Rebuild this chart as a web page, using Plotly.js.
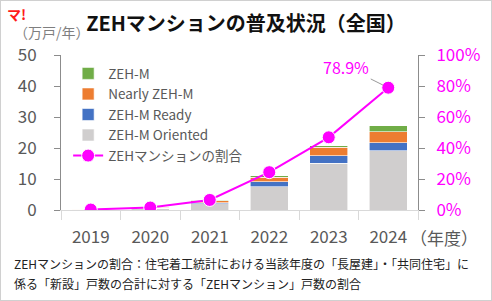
<!DOCTYPE html>
<html><head><meta charset="utf-8">
<script src="https://cdn.plot.ly/plotly-3.0.1.min.js"></script>
<style>
html,body{margin:0;padding:0;background:#fff;}
#wrap{width:492px;height:301px;box-sizing:border-box;border:1px solid #d0d0d0;position:relative;overflow:hidden;}
#chart{position:absolute;left:-1px;top:-1px;width:492px;height:301px;}
</style></head>
<body><div id="wrap"><div id="chart"></div></div>
<script>
const years = ['2019','2020','2021','2022','2023','2024'];
const zehM      = [0.05, 0.1, 0.2, 0.4, 0.6, 1.9];
const nearly    = [0.1, 0.3, 0.6, 1.5, 2.7, 3.5];
const ready     = [0.05, 0.1, 0.4, 1.6, 2.4, 2.6];
const oriented  = [0.1, 0.5, 2.0, 7.5, 15.1, 19.1];
const sharePct  = [0.3, 1.6, 6.5, 24.4, 46.9, 78.9];
const labels = ['ZEH-M','Nearly ZEH-M','ZEH-M Ready','ZEH-M Oriented','ZEHマンションの割合'];

const FONT = '"Noto Sans CJK JP", "Noto Sans", sans-serif';
const GRAY = '#595959';
const MAG = '#FF00FF';
const bl = {color:'#ffffff', width:0.6};

const traces = [
  {type:'bar', name:labels[3], x:years, y:oriented, marker:{color:'#D0CECE', line:bl}, legendrank:4, hoverinfo:'skip'},
  {type:'bar', name:labels[2], x:years, y:ready, marker:{color:'#4472C4', line:bl}, legendrank:3, hoverinfo:'skip'},
  {type:'bar', name:labels[1], x:years, y:nearly, marker:{color:'#ED7D31', line:bl}, legendrank:2, hoverinfo:'skip'},
  {type:'bar', name:labels[0], x:years, y:zehM, marker:{color:'#70AD47', line:bl}, legendrank:1, hoverinfo:'skip'},
  {type:'scatter', mode:'lines+markers', name:labels[4], x:years, y:sharePct.map(v=>v/100), yaxis:'y2',
   line:{color:MAG, width:2}, marker:{color:MAG, size:13, line:{color:'#fff', width:1}}, legendrank:5, hoverinfo:'skip'}
];

const last = years.length-1;
const layout = {
  width:492, height:301,
  margin:{l:61, r:74, t:55, b:91},
  paper_bgcolor:'rgba(0,0,0,0)', plot_bgcolor:'rgba(0,0,0,0)',
  font:{family:FONT, color:GRAY, size:14},
  barmode:'stack', bargap:0.36,
  showlegend:true,
  legend:{x:0.02, y:0.98, xanchor:'left', yanchor:'top', traceorder:'normal', font:{size:13.5, color:GRAY},
          bgcolor:'rgba(0,0,0,0)', itemwidth:30, tracegroupgap:0},
  title:{text:'<b>ZEHマンションの普及状況（全国）</b>', x:0.5, xanchor:'center', y:0.92, yanchor:'middle', font:{family:FONT, size:20, color:'#111'}},
  xaxis:{type:'category', range:[-0.5, last+0.5], showline:true, linecolor:'#d9d9d9', linewidth:1, ticks:'outside', tickson:'boundaries', ticklen:9, tickcolor:'#d9d9d9',
         tickangle:0, ticklabelstandoff:12, tickfont:{size:17, color:GRAY}, showgrid:false, fixedrange:true},
  yaxis:{range:[0,50], dtick:10, showline:true, linecolor:'#8c8c8c', ticks:'outside', ticklen:6, tickcolor:'#8c8c8c',
         ticklabelstandoff:14, tickfont:{size:17, color:GRAY}, showgrid:false, zeroline:false, fixedrange:true},
  yaxis2:{range:[0,1], dtick:0.2, tickformat:'.0%', overlaying:'y', side:'right', showline:true, linecolor:'#8c8c8c', ticks:'outside', ticklen:6, tickcolor:'#8c8c8c',
          ticklabelstandoff:8, tickfont:{size:17, color:MAG}, showgrid:false, zeroline:false, fixedrange:true},
  annotations:[
    {xref:'paper', yref:'paper', x:-0.137, y:1.148, xanchor:'left', yanchor:'middle', text:'（万戸/年）', showarrow:false, font:{size:14, color:'#7f7f7f'}},
    {xref:'paper', yref:'paper', x:0.972, y:-0.18, xanchor:'left', yanchor:'middle', text:'（年度）', showarrow:false, font:{size:17, color:GRAY}},
    {xref:'paper', yref:'paper', x:-0.158, y:1.265, xanchor:'left', yanchor:'middle', text:'<b>マ!</b>', showarrow:false, font:{size:14, color:'#ff1a1a'}},
    {xref:'paper', yref:'paper', x:-0.138, y:-0.345, xanchor:'left', yanchor:'middle', align:'left', showarrow:false,
     text:'ZEHマンションの割合：住宅着工統計における当該年度の「長屋建」・「共同住宅」に', font:{size:12, color:'#222'}},
    {xref:'paper', yref:'paper', x:-0.138, y:-0.475, xanchor:'left', yanchor:'middle', align:'left', showarrow:false,
     text:'係る「新設」戸数の合計に対する「ZEHマンション」戸数の割合', font:{size:12, color:'#222'}},
    {xref:'x', yref:'y2', x:last, y:sharePct[last]/100, text:sharePct[last].toFixed(1)+'%', showarrow:true,
     arrowhead:0, arrowwidth:1, arrowcolor:'#999', ax:-42, ay:-21, standoff:6, font:{size:16, color:MAG}}
  ]
};
Plotly.newPlot('chart', traces, layout, {staticPlot:true, displayModeBar:false});
</script></body></html>
